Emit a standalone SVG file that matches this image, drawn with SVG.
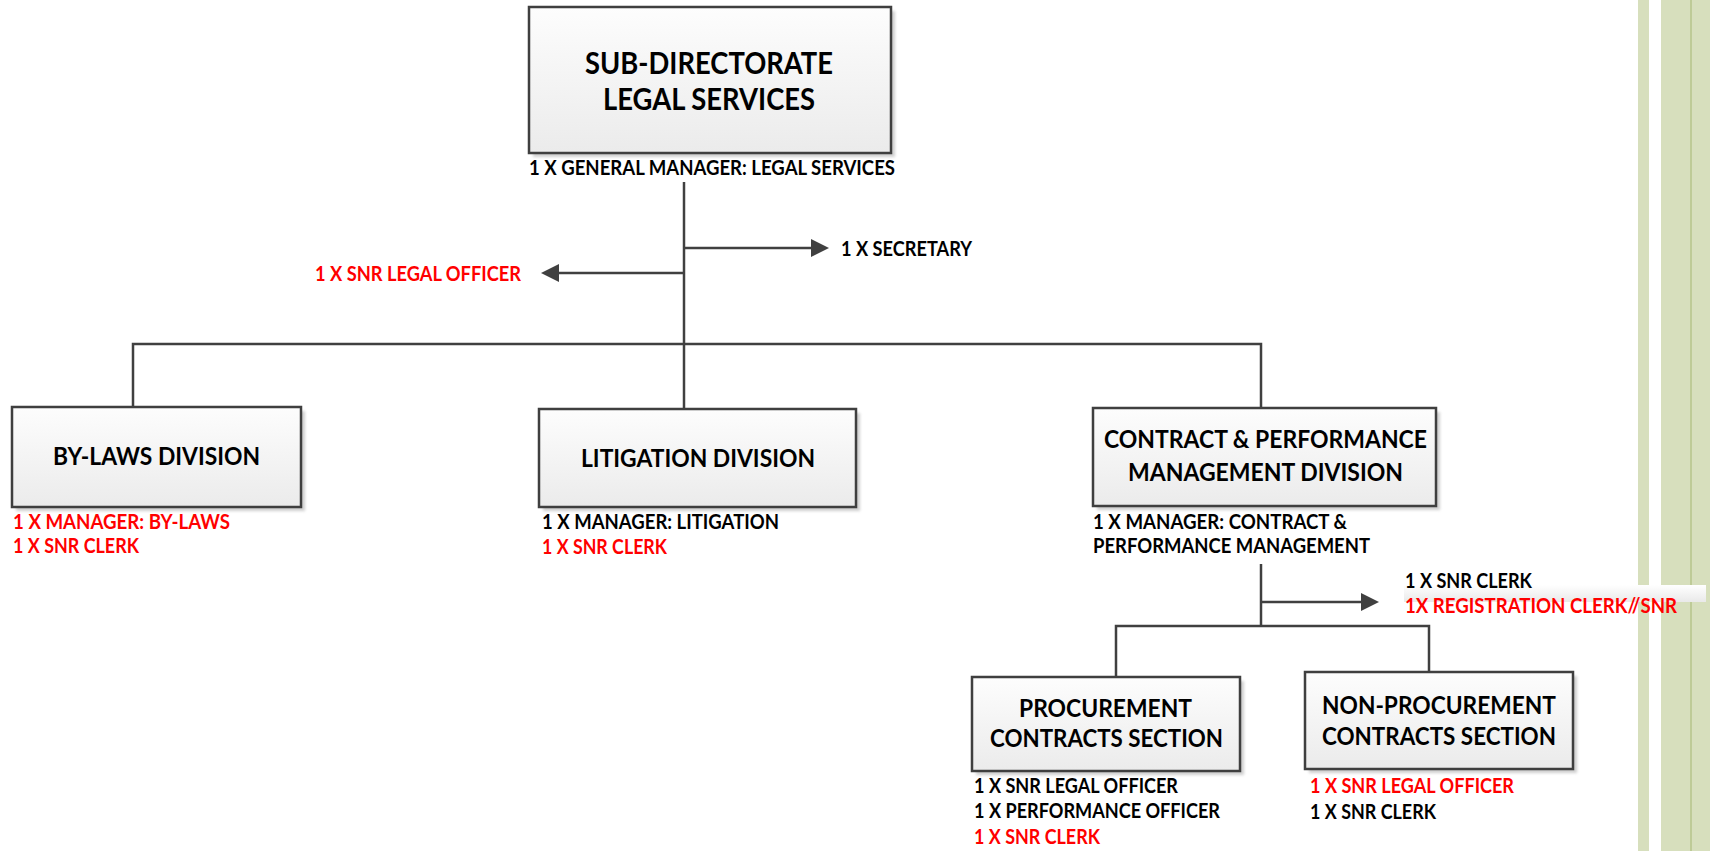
<svg xmlns="http://www.w3.org/2000/svg" width="1710" height="851" viewBox="0 0 1710 851">
<style>
.box{fill:url(#boxg);stroke:#3f3f3f;stroke-width:2.5}
.sh{fill:#cfcfcf;filter:url(#blur)}
.t{font-family:Lato,"Liberation Sans",sans-serif;font-weight:bold;fill:#000}
.r{fill:#ff0000}
.h1{font-size:30px}
.h2{font-size:25px}
.lb{font-size:20px}
.conn{fill:none;stroke:#404040;stroke-width:2.5}
.green{fill:#d7dfbd}
</style>
<defs>
<linearGradient id="boxg" x1="0" y1="0" x2="0" y2="1">
<stop offset="0" stop-color="#fdfdfd"/>
<stop offset="1" stop-color="#ebebeb"/>
</linearGradient>
<linearGradient id="barg" x1="0" y1="0" x2="0" y2="1">
<stop offset="0" stop-color="#ffffff"/>
<stop offset="1" stop-color="#e9e9e9"/>
</linearGradient>
<filter id="blur" x="-10%" y="-10%" width="120%" height="120%">
<feGaussianBlur stdDeviation="1.5"/>
</filter>
<marker id="arr" markerUnits="userSpaceOnUse" markerWidth="18" markerHeight="18" refX="8" refY="9" orient="auto">
<path d="M0,0 L18,9 L0,18 z" fill="#404040"/>
</marker>
</defs>
<rect width="1710" height="851" fill="#ffffff"/>
<g id="sidebar">
<rect class="green" x="1638" y="0" width="11" height="851"/>
<rect class="green" x="1661" y="0" width="49" height="851"/>
<line x1="1691" y1="0" x2="1691" y2="851" stroke="#b6c58b" stroke-width="1.5"/>
</g>
<g id="connectors">
<path class="conn" d="M684,182 V409"/>
<path class="conn" d="M684,248 H819" marker-end="url(#arr)"/>
<path class="conn" d="M684,273 H551" marker-end="url(#arr)"/>
<path class="conn" d="M133,407 V344 H1261 V408"/>
<path class="conn" d="M1261,564 V626"/>
<path class="conn" d="M1261,602 H1369" marker-end="url(#arr)"/>
<path class="conn" d="M1116,677 V626 H1429 V672"/>
</g>
<g id="n-top">
<rect class="sh" x="533" y="11" width="362" height="146"/>
<rect class="box" x="529" y="7" width="362" height="146"/>
<text class="t h1" x="585" y="74" textLength="248" lengthAdjust="spacingAndGlyphs">SUB-DIRECTORATE</text>
<text class="t h1" x="603" y="110" textLength="212" lengthAdjust="spacingAndGlyphs">LEGAL SERVICES</text>
<text class="t lb" x="529" y="175" textLength="366" lengthAdjust="spacingAndGlyphs">1 X GENERAL MANAGER: LEGAL SERVICES</text>
</g>
<g id="n-secretary">
<text class="t lb" x="841" y="256" textLength="131" lengthAdjust="spacingAndGlyphs">1 X SECRETARY</text>
</g>
<g id="n-snrlegal">
<text class="t lb r" x="315" y="281" textLength="206" lengthAdjust="spacingAndGlyphs">1 X SNR LEGAL OFFICER</text>
</g>
<g id="n-bylaws">
<rect class="sh" x="16" y="411" width="289" height="100"/>
<rect class="box" x="12" y="407" width="289" height="100"/>
<text class="t h2" x="53" y="465" textLength="207" lengthAdjust="spacingAndGlyphs">BY-LAWS DIVISION</text>
<text class="t lb r" x="13" y="529" textLength="217" lengthAdjust="spacingAndGlyphs">1 X MANAGER: BY-LAWS</text>
<text class="t lb r" x="13" y="553" textLength="126" lengthAdjust="spacingAndGlyphs">1 X SNR CLERK</text>
</g>
<g id="n-litigation">
<rect class="sh" x="543" y="413" width="317" height="98"/>
<rect class="box" x="539" y="409" width="317" height="98"/>
<text class="t h2" x="581" y="467" textLength="234" lengthAdjust="spacingAndGlyphs">LITIGATION DIVISION</text>
<text class="t lb" x="542" y="529" textLength="237" lengthAdjust="spacingAndGlyphs">1 X MANAGER: LITIGATION</text>
<text class="t lb r" x="542" y="554" textLength="125" lengthAdjust="spacingAndGlyphs">1 X SNR CLERK</text>
</g>
<g id="n-contract">
<rect class="sh" x="1097" y="412" width="343" height="98"/>
<rect class="box" x="1093" y="408" width="343" height="98"/>
<text class="t h2" x="1104" y="448" textLength="323" lengthAdjust="spacingAndGlyphs">CONTRACT &amp; PERFORMANCE</text>
<text class="t h2" x="1128" y="481" textLength="275" lengthAdjust="spacingAndGlyphs">MANAGEMENT DIVISION</text>
<text class="t lb" x="1093" y="529" textLength="254" lengthAdjust="spacingAndGlyphs">1 X MANAGER: CONTRACT &amp;</text>
<text class="t lb" x="1093" y="553" textLength="277" lengthAdjust="spacingAndGlyphs">PERFORMANCE MANAGEMENT</text>
</g>
<g id="n-contract-staff">
<rect x="1404" y="585" width="302" height="17" fill="url(#barg)"/>
<text class="t lb" x="1405" y="588" textLength="127" lengthAdjust="spacingAndGlyphs">1 X SNR CLERK</text>
<text class="t lb r" x="1405" y="613" textLength="272" lengthAdjust="spacingAndGlyphs">1X REGISTRATION CLERK//SNR</text>
</g>
<g id="n-procurement">
<rect class="sh" x="976" y="681" width="268" height="94"/>
<rect class="box" x="972" y="677" width="268" height="94"/>
<text class="t h2" x="1019" y="717" textLength="173" lengthAdjust="spacingAndGlyphs">PROCUREMENT</text>
<text class="t h2" x="990" y="747" textLength="233" lengthAdjust="spacingAndGlyphs">CONTRACTS SECTION</text>
<text class="t lb" x="974" y="793" textLength="204" lengthAdjust="spacingAndGlyphs">1 X SNR LEGAL OFFICER</text>
<text class="t lb" x="974" y="818" textLength="246" lengthAdjust="spacingAndGlyphs">1 X PERFORMANCE OFFICER</text>
<text class="t lb r" x="974" y="844" textLength="126" lengthAdjust="spacingAndGlyphs">1 X SNR CLERK</text>
</g>
<g id="n-nonprocurement">
<rect class="sh" x="1309" y="676" width="268" height="97"/>
<rect class="box" x="1305" y="672" width="268" height="97"/>
<text class="t h2" x="1322" y="714" textLength="234" lengthAdjust="spacingAndGlyphs">NON-PROCUREMENT</text>
<text class="t h2" x="1322" y="745" textLength="234" lengthAdjust="spacingAndGlyphs">CONTRACTS SECTION</text>
<text class="t lb r" x="1310" y="793" textLength="204" lengthAdjust="spacingAndGlyphs">1 X SNR LEGAL OFFICER</text>
<text class="t lb" x="1310" y="819" textLength="126" lengthAdjust="spacingAndGlyphs">1 X SNR CLERK</text>
</g>
</svg>
